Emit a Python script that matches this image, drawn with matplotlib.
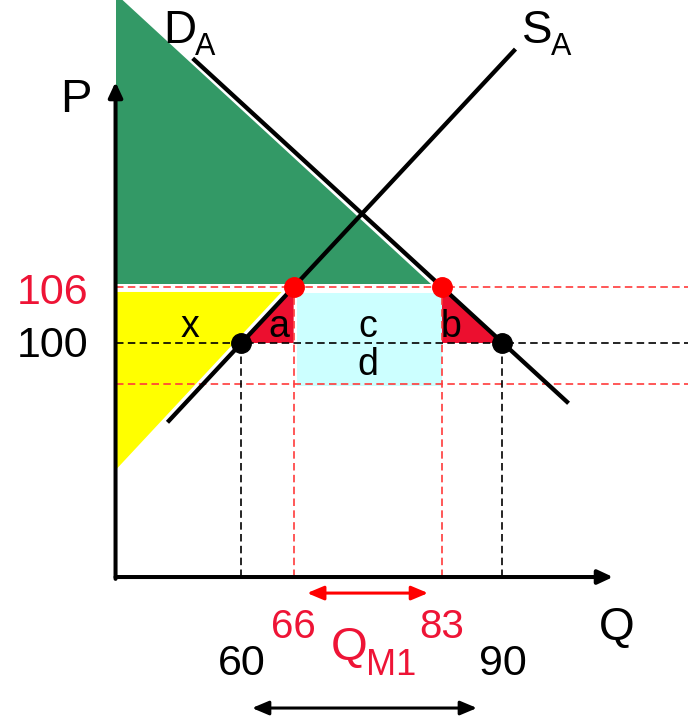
import matplotlib
matplotlib.use("Agg")
import matplotlib.pyplot as plt
from matplotlib.patches import Polygon, Rectangle
import numpy as np

plt.rcParams["font.family"] = ["Liberation Sans", "DejaVu Sans"]

# ---- market data (quantity Q, price P) ----
p_free = 100.0          # free-trade price
p_tariff = 106.0        # domestic price with tariff
p_foreign = 95.6        # price received by foreign exporters
q_free = [60, 90]       # domestic supply / demand at free-trade price
q_tariff = [66, 83]     # domestic supply / demand with tariff

# straight supply and demand curves (end points)
supply_q = [51.5, 91.5]
supply_p = [91.5, 131.5]
demand_q = [54.4, 97.6]
demand_p = [130.51, 93.54]

# axis frame
q_origin, p_origin = 45.53, 74.92
q_axis_end, p_axis_end = 102.71, 127.97
q_min, q_max = 32.25, 111.33
p_min, p_max = 59.49, 136.76

RED_TXT = "#EE1436"
RED_FILL = "#EC0F2F"
DASH_RED = "#FF3B3B"


def line_fn(qs, ps):
    slope = (ps[1] - ps[0]) / (qs[1] - qs[0])
    return slope, ps[0] - slope * qs[0]


s_slope, s_icpt = line_fn(supply_q, supply_p)
d_slope, d_icpt = line_fn(demand_q, demand_p)

fig = plt.figure(figsize=(6.88, 7.21), dpi=100)
ax = fig.add_axes([0, 0, 1, 1])
ax.set_xlim(q_min, q_max)
ax.set_ylim(p_min, p_max)
ax.axis("off")

gap = 0.85  # white margin between shaded areas and the curves

# consumer surplus (green)
g_bottom = p_tariff + 0.32
g_top = d_slope * (q_origin + gap) + d_icpt
g_right = (g_bottom - d_icpt) / d_slope - gap
ax.add_patch(Polygon([(q_origin, g_top), (q_origin, g_bottom), (g_right, g_bottom)],
                     closed=True, facecolor="#339966", edgecolor="none", zorder=1))

# producer surplus (yellow)
y_top = p_tariff - 0.53
y_bottom = s_slope * (q_origin + gap) + s_icpt
y_right = (y_top - s_icpt) / s_slope - gap
ax.add_patch(Polygon([(q_origin, y_top), (y_right, y_top), (q_origin, y_bottom)],
                     closed=True, facecolor="#FFFF00", edgecolor="none", zorder=1))

# tariff revenue (cyan)
ax.add_patch(Rectangle((q_tariff[0] + 0.4, p_foreign - 0.2),
                       q_tariff[1] - q_tariff[0] - 0.4, (p_tariff - 0.64) - (p_foreign - 0.2),
                       facecolor="#CCFFFF", edgecolor="none", zorder=1))

# deadweight losses a and b (red)
ax.add_patch(Polygon([(q_free[0], p_free), (q_tariff[0], p_tariff), (q_tariff[0], p_free)],
                     closed=True, facecolor=RED_FILL, edgecolor="none", zorder=1))
ax.add_patch(Polygon([(q_tariff[1], p_tariff), (q_tariff[1], p_free), (q_free[1], p_free)],
                     closed=True, facecolor=RED_FILL, edgecolor="none", zorder=1))

# guide lines
dash = (0, (4.5, 2.6))
ax.hlines([p_tariff, p_foreign], q_origin, q_max, colors=DASH_RED, lw=1.2,
          linestyles=[dash], zorder=2)
ax.hlines(p_free, q_origin, q_max, colors="black", lw=1.2, linestyles=[dash], zorder=2)
ax.vlines(q_free, p_origin, p_free, colors="black", lw=1.2, linestyles=[dash], zorder=2)
ax.vlines(q_tariff, p_origin, p_tariff, colors=DASH_RED, lw=1.2, linestyles=[dash], zorder=2)

# supply and demand curves
ax.plot(supply_q, supply_p, color="black", lw=3.1, solid_capstyle="butt", zorder=3)
ax.plot(demand_q, demand_p, color="black", lw=3.1, solid_capstyle="butt", zorder=3)

# equilibrium points
ax.plot(q_free, [p_free, p_free], "o", color="black", ms=14, zorder=4)
ax.plot(q_tariff, [p_tariff, p_tariff], "o", color="#FF0000", ms=14, zorder=4)

# axes with arrow heads
axis_arrow = dict(arrowstyle="-|>,head_length=0.9,head_width=0.42", mutation_scale=10,
                  lw=2.9, color="black", shrinkA=0, shrinkB=0)
ax.annotate("", xy=(q_origin, p_axis_end), xytext=(q_origin, p_origin - 0.2),
            arrowprops=axis_arrow, zorder=3)
ax.annotate("", xy=(q_axis_end, p_origin), xytext=(q_origin, p_origin),
            arrowprops=axis_arrow, zorder=3)

# import volume arrows
ax.annotate("", xy=(q_tariff[1], 73.2), xytext=(q_tariff[0], 73.2),
            arrowprops=dict(arrowstyle="<|-|>,head_length=1.0,head_width=0.42",
                            mutation_scale=10, lw=2.2, color="#FF0000",
                            shrinkA=9.7, shrinkB=9.7), zorder=3)
ax.annotate("", xy=(q_free[1], 60.88), xytext=(q_free[0], 60.88),
            arrowprops=dict(arrowstyle="<|-|>,head_length=1.0,head_width=0.42",
                            mutation_scale=10, lw=2.2, color="black",
                            shrinkA=7.6, shrinkB=18.3), zorder=3)

# labels
T = dict(zorder=5, va="baseline")
ax.text(41.0, 124.76, "P", fontsize=34, ha="center", **T)
ax.text(103.12, 68.17, "Q", fontsize=33, ha="center", **T)
ax.text(42.37, 104.18, f"{p_tariff:.0f}", fontsize=31, ha="right", color=RED_TXT, **T)
ax.text(42.37, 98.5, f"{p_free:.0f}", fontsize=31, ha="right", **T)
for q in q_free:
    ax.text(q, 64.42, f"{q}", fontsize=31, ha="center", **T)
for q in q_tariff:
    ax.text(q, 68.38, f"{q}", fontsize=29, ha="center", color=RED_TXT, **T)

q_mid = (q_tariff[0] + q_tariff[1]) / 2
ax.text(q_mid - 0.05, 66.02, "Q", fontsize=34, ha="right", color=RED_TXT, **T)
ax.text(q_mid - 0.15, 64.42, "M1", fontsize=26, ha="left", color=RED_TXT, **T)

ax.text(51.0, 132.15, "D", fontsize=33, ha="left", **T)
ax.text(54.6, 130.87, "A", fontsize=22, ha="left", **T)
ax.text(92.25, 132.15, "S", fontsize=33, ha="left", **T)
ax.text(95.6, 130.87, "A", fontsize=22, ha="left", **T)

ax.text(54.1, 100.64, "x", fontsize=27, ha="center", **T)
ax.text(64.3, 100.64, "a", fontsize=27, ha="center", **T)
ax.text(84.1, 100.64, "b", fontsize=27, ha="center", **T)
ax.text(q_mid, 100.64, "c", fontsize=27, ha="center", **T)
ax.text(q_mid, 96.57, "d", fontsize=27, ha="center", **T)

fig.savefig("out.png", dpi=100)
